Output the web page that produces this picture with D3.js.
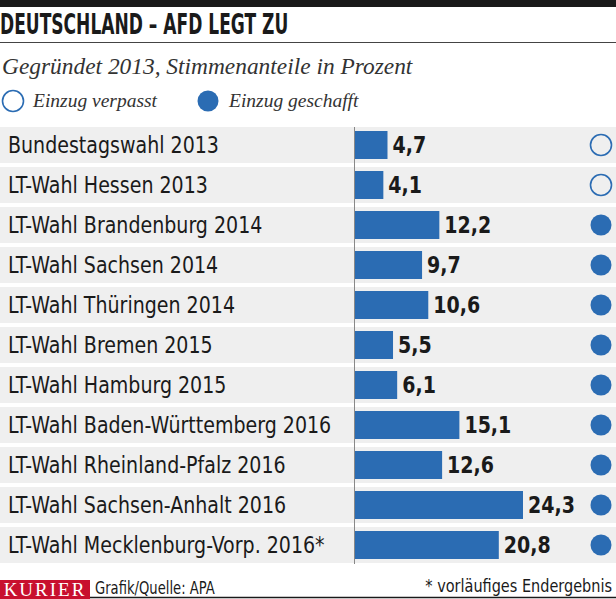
<!DOCTYPE html>
<html>
<head>
<meta charset="utf-8">
<script src="https://cdn.jsdelivr.net/npm/d3@7"></script>
<style>
  body { margin: 0; background: #fff; }
  svg { display: block; }
  .cond { font-family: "DejaVu Sans Condensed", "Liberation Sans Narrow", sans-serif; }
  .ital { font-family: "Liberation Serif", "DejaVu Serif", serif; font-style: italic; }
</style>
</head>
<body>
<svg id="chart" width="616" height="599"></svg>
<script>
const wahlen = [
  "Bundestagswahl 2013",
  "LT-Wahl Hessen 2013",
  "LT-Wahl Brandenburg 2014",
  "LT-Wahl Sachsen 2014",
  "LT-Wahl Thüringen 2014",
  "LT-Wahl Bremen 2015",
  "LT-Wahl Hamburg 2015",
  "LT-Wahl Baden-Württemberg 2016",
  "LT-Wahl Rheinland-Pfalz 2016",
  "LT-Wahl Sachsen-Anhalt 2016",
  "LT-Wahl Mecklenburg-Vorp. 2016*"
];
const anteile = [4.7, 4.1, 12.2, 9.7, 10.6, 5.5, 6.1, 15.1, 12.6, 24.3, 20.8];
const einzug = [false, false, true, true, true, true, true, true, true, true, true];

const blau = "#2b6cb3";
const schwarz = "#1a1a1a";
const svg = d3.select("#chart");

// schmale schrift: text in einer gruppe waagrecht stauchen
function schmal(parent, x, y, sx, size, weight, anchor, txt) {
  const g = parent.append("g").attr("transform", `translate(${x},${y}) scale(${sx},1)`);
  return g.append("text").attr("class", "cond")
    .attr("font-size", size).attr("font-weight", weight)
    .attr("text-anchor", anchor).attr("fill", schwarz)
    .text(txt);
}

// kopf
svg.append("rect").attr("x", 0).attr("y", 0).attr("width", 616).attr("height", 7).attr("fill", schwarz);
schmal(svg, 0, 34, 0.69, 27.5, "bold", "start", "DEUTSCHLAND – AFD LEGT ZU");
svg.append("line").attr("x1", 0).attr("x2", 616).attr("y1", 42.5).attr("y2", 42.5)
  .attr("stroke", "#444").attr("stroke-width", 1);
svg.append("text").attr("class", "ital")
  .attr("x", 2).attr("y", 74).attr("font-size", 23.4).attr("fill", "#333")
  .text("Gegründet 2013, Stimmenanteile in Prozent");

// legende
const leg = svg.append("g");
leg.append("circle").attr("cx", 13).attr("cy", 101).attr("r", 10.5)
  .attr("fill", "#fff").attr("stroke", blau).attr("stroke-width", 1.6);
leg.append("text").attr("class", "ital").attr("x", 33).attr("y", 107)
  .attr("font-size", 19.5).attr("fill", "#333").text("Einzug verpasst");
leg.append("circle").attr("cx", 208).attr("cy", 101).attr("r", 10.5).attr("fill", blau);
leg.append("text").attr("class", "ital").attr("x", 229).attr("y", 107)
  .attr("font-size", 19.5).attr("fill", "#333").text("Einzug geschafft");

// skalen
const y = d3.scaleBand().domain(wahlen).range([125, 565]).paddingInner(0.1).paddingOuter(0.05);
const x = d3.scaleLinear().domain([0, 24.3]).range([355, 523]);

const daten = wahlen.map((w, i) => ({ wahl: w, wert: anteile[i], drin: einzug[i] }));

const zeile = svg.selectAll("g.zeile")
  .data(daten)
  .enter()
  .append("g")
  .attr("class", "zeile")
  .attr("transform", d => `translate(0, ${y(d.wahl)})`);

const mitte = y.bandwidth() / 2;

zeile.append("rect")
  .attr("x", 0).attr("width", 616).attr("height", y.bandwidth())
  .attr("fill", "#efefef");

zeile.each(function (d) {
  const z = d3.select(this);
  schmal(z, 8, mitte, 0.92, 23, "normal", "start", d.wahl).attr("dy", "0.36em");
  z.append("rect")
    .attr("x", x(0)).attr("y", mitte - 14)
    .attr("width", x(d.wert) - x(0)).attr("height", 28)
    .attr("fill", blau);
  schmal(z, x(d.wert) + 5, mitte, 0.92, 23, "bold", "start",
    d3.format(".1f")(d.wert).replace(".", ",")).attr("dy", "0.36em");
});

zeile.append("circle")
  .attr("cx", 601).attr("cy", mitte).attr("r", 10.5)
  .attr("fill", d => d.drin ? blau : "none")
  .attr("stroke", blau).attr("stroke-width", d => d.drin ? 0 : 1.6);

// achse
svg.append("line")
  .attr("x1", x(0) - 0.5).attr("x2", x(0) - 0.5)
  .attr("y1", y.range()[0] + 2).attr("y2", y.range()[1] - 1)
  .attr("stroke", "#888").attr("stroke-width", 1);

// fuss
svg.append("rect").attr("x", 0).attr("y", 580).attr("width", 90).attr("height", 19).attr("fill", "#c8102e");
svg.append("text")
  .attr("x", 45).attr("y", 596).attr("text-anchor", "middle")
  .attr("font-family", "Liberation Serif, DejaVu Serif, serif")
  .attr("font-size", 19).attr("letter-spacing", 2).attr("fill", "#fff")
  .text("KURIER");
schmal(svg, 95, 594, 0.86, 17, "normal", "start", "Grafik/Quelle: APA");
schmal(svg, 612, 592, 0.87, 18.5, "normal", "end", "* vorläufiges Endergebnis");
svg.append("line").attr("x1", 90).attr("x2", 616).attr("y1", 597.5).attr("y2", 597.5)
  .attr("stroke", schwarz).attr("stroke-width", 1.5);
</script>
</body>
</html>
